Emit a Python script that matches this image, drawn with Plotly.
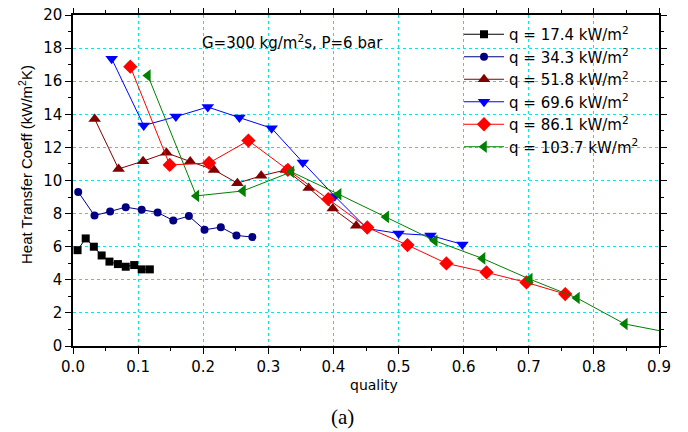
import plotly.graph_objects as go

# ---- data ----
x_174 = [0.007, 0.0195, 0.032, 0.044, 0.056, 0.069, 0.081, 0.094, 0.1055, 0.118]
y_174 = [5.79, 6.5, 6.0, 5.47, 5.1, 4.95, 4.79, 4.89, 4.63, 4.63]

x_343 = [0.008, 0.033, 0.057, 0.081, 0.1055, 0.130, 0.154, 0.178, 0.202, 0.227, 0.251, 0.2755]
y_343 = [9.31, 7.88, 8.13, 8.39, 8.23, 8.07, 7.58, 7.85, 7.02, 7.18, 6.68, 6.58]

x_518 = [0.0333, 0.070, 0.1076, 0.1435, 0.180, 0.2166, 0.2525, 0.289, 0.3267, 0.362, 0.399, 0.435]
y_518 = [13.72, 10.7, 11.17, 11.67, 11.15, 10.64, 9.84, 10.28, 10.64, 9.55, 8.31, 7.26]

x_696 = [0.0594, 0.1086, 0.158, 0.207, 0.2556, 0.305, 0.353, 0.402, 0.4516, 0.500, 0.549, 0.598]
y_696 = [17.36, 13.32, 13.86, 14.44, 13.8, 13.16, 11.09, 9.05, 7.1, 6.8, 6.68, 6.14]

x_861 = [0.088, 0.1485, 0.209, 0.2694, 0.33, 0.392, 0.452, 0.5137, 0.5735, 0.635, 0.6965, 0.756]
y_861 = [16.88, 10.94, 11.06, 12.41, 10.64, 8.87, 7.16, 6.1, 4.99, 4.45, 3.84, 3.14]

x_1037 = [0.115, 0.1895, 0.261, 0.3355, 0.408, 0.481, 0.5556, 0.629, 0.7015, 0.774, 0.8475, 0.92]
y_1037 = [16.34, 9.07, 9.37, 10.52, 9.17, 7.8, 6.36, 5.29, 4.04, 2.9, 1.33, 0.78]

names = ["q = 17.4 kW/m<sup>2</sup>", "q = 34.3 kW/m<sup>2</sup>", "q = 51.8 kW/m<sup>2</sup>",
         "q = 69.6 kW/m<sup>2</sup>", "q = 86.1 kW/m<sup>2</sup>", "q = 103.7 kW/m<sup>2</sup>"]

series = [
    (x_174, y_174, "#000000", "square", 8),
    (x_343, y_343, "#000080", "circle", 8),
    (x_518, y_518, "#800000", "triangle-up", 11),
    (x_696, y_696, "#0000ff", "triangle-down", 11),
    (x_861, y_861, "#ff0000", "diamond", 11),
    (x_1037, y_1037, "#008000", "triangle-left", 11),
]

SANS = "DejaVu Sans, Arial"

fig = go.Figure()
for (xs, ys, col, sym, sz), nm in zip(series, names):
    fig.add_trace(go.Scatter(
        x=xs, y=ys, name=nm, mode="lines+markers",
        line=dict(color=col, width=1),
        marker=dict(color=col, symbol=sym, size=sz, line=dict(width=0)),
        cliponaxis=True,
    ))

axis_common = dict(
    showline=True, linecolor="black", linewidth=1.5, mirror="allticks",
    ticks="outside", ticklen=6, tickwidth=1.2, tickcolor="black",
    showgrid=True, gridcolor="#00eaea", griddash="dot", gridwidth=1,
    zeroline=False, automargin=False, ticklabeloverflow="allow",
    tickfont=dict(family=SANS, size=15, color="black"),
)

fig.update_xaxes(
    range=[0, 0.9], dtick=0.1, tick0=0, tickformat=".1f",
    minor=dict(ticks="outside", ticklen=3, dtick=0.05, tickcolor="black", showgrid=False),
    **axis_common,
)
fig.update_yaxes(
    range=[0, 20], dtick=2, tick0=0,
    minor=dict(ticks="outside", ticklen=3, dtick=1, tickcolor="black", showgrid=False),
    **axis_common,
)

# page offset of the figure (default body margin of the html page)
OFF = 8
FW, FH = 688 - OFF, 432 - OFF
# plot area in window pixels
L, R, T, B = 73, 659, 15, 346
W, H = R - L, B - T

def px(xp):
    return (xp - L) / W

def py(yp):
    return (B - yp) / H

fig.add_annotation(
    x=px(374), y=py(385), xref="paper", yref="paper", xanchor="center", yanchor="middle",
    text="quality", showarrow=False,
    font=dict(family=SANS, size=14, color="black"),
)
fig.add_annotation(
    x=px(25), y=py(165), xref="paper", yref="paper", xanchor="center", yanchor="middle",
    text="Heat Transfer Coeff (kW/m<sup>2</sup>K)", showarrow=False, textangle=-90,
    font=dict(family="Liberation Sans, Arial", size=15, color="black"),
)
fig.add_annotation(
    x=px(292), y=py(42), xref="paper", yref="paper", xanchor="center", yanchor="middle",
    text="G=300 kg/m<sup>2</sup>s, P=6 bar", showarrow=False,
    font=dict(family=SANS, size=15, color="black"),
)
fig.add_annotation(
    x=px(342), y=py(417), xref="paper", yref="paper", xanchor="center", yanchor="middle",
    text="(a)", showarrow=False,
    font=dict(family="Liberation Serif, Times New Roman", size=21, color="black"),
)

fig.update_layout(
    width=FW, height=FH,
    margin=dict(l=L - OFF, r=688 - R, t=T - OFF, b=432 - B),
    paper_bgcolor="white", plot_bgcolor="white",
    showlegend=True,
    legend=dict(
        x=px(459), y=py(18), xanchor="left", yanchor="top",
        bgcolor="rgba(0,0,0,0)", borderwidth=0,
        font=dict(family=SANS, size=15, color="black"),
        tracegroupgap=0, itemwidth=40,
    ),
)

fig.write_html("out.html")
